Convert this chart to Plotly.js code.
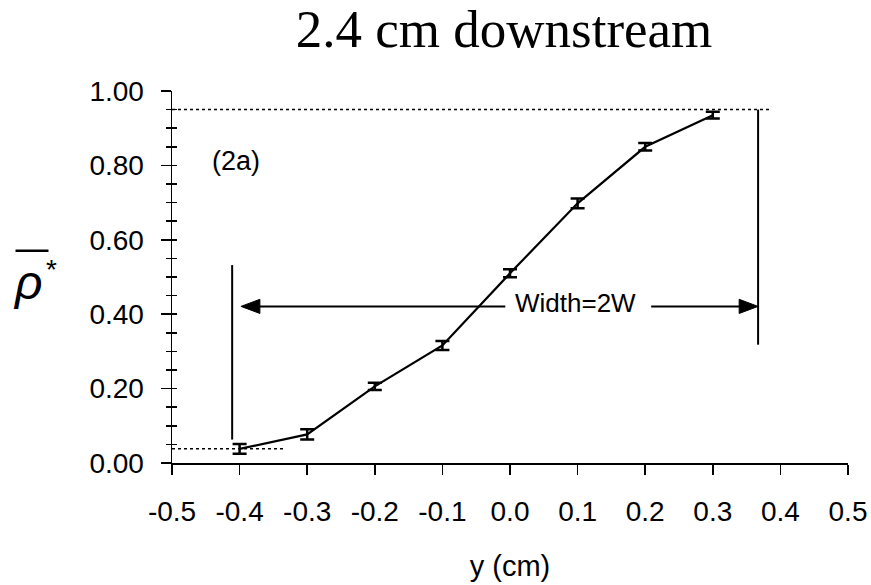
<!DOCTYPE html>
<html>
<head>
<meta charset="utf-8">
<script src="https://cdn.plot.ly/plotly-3.0.1.min.js"></script>
<style>html,body{margin:0;padding:0;background:#fff;}#chart{width:871px;height:585px;}</style>
</head>
<body>
<div id="chart"></div>
<script>
// ---- data ----
var positions = [-0.4, -0.3, -0.2, -0.1, 0.0, 0.1, 0.2, 0.3];
var rhoValues = [0.038, 0.077, 0.206, 0.316, 0.510, 0.698, 0.850, 0.935];
var rhoErrors = [0.013, 0.014, 0.010, 0.012, 0.011, 0.013, 0.010, 0.009];
var xTickVals = [-0.5, -0.4, -0.3, -0.2, -0.1, 0.0, 0.1, 0.2, 0.3, 0.4, 0.5];
var xTickText = ["-0.5", "-0.4", "-0.3", "-0.2", "-0.1", "0.0", "0.1", "0.2", "0.3", "0.4", "0.5"];
var yTickVals = [0, 0.2, 0.4, 0.6, 0.8, 1.0];
var yTickText = ["0.00", "0.20", "0.40", "0.60", "0.80", "1.00"];
// annotation guide values (data units)
var upperLevel = 0.95, lowerLevel = 0.038;
var leftEdge = -0.411, rightEdge = 0.367;
var arrowLevel = 0.421;
var arrowLeftTip = -0.398, arrowLeftTail = -0.007, arrowRightTail = 0.2088;

var SANS = "Arial, 'Liberation Sans', sans-serif";
var SERIF = "'Times New Roman', 'Liberation Serif', serif";

// arrowhead size in data units (about 19 px long, 14 px tall)
var headLen = 0.028, headHalf = 0.019;
function head(tip, dir) {
  var b = tip - dir * headLen;
  return "M" + tip + "," + arrowLevel + " L" + b + "," + (arrowLevel + headHalf) +
         " L" + b + "," + (arrowLevel - headHalf) + " Z";
}

var traces = [
  {
    x: positions, y: rhoValues, type: "scatter", mode: "lines",
    line: {color: "black", width: 2.2},
    error_y: {type: "data", array: rhoErrors, visible: true, color: "black", thickness: 2.5, width: 7},
    hoverinfo: "x+y", showlegend: false
  },
  {
    x: positions, y: rhoValues, type: "scatter", mode: "lines", yaxis: "y2",
    line: {color: "rgba(0,0,0,0)", width: 0}, hoverinfo: "skip", showlegend: false
  }
];

var layout = {
  width: 871, height: 585,
  margin: {l: 172, r: 23, t: 91, b: 122},
  paper_bgcolor: "white", plot_bgcolor: "white",
  font: {family: SANS, color: "black", size: 27},
  showlegend: false,
  title: {
    text: "2.4 cm downstream",
    font: {family: SERIF, size: 53, color: "black"},
    x: 0.5787, xanchor: "center", y: 0.951, yanchor: "middle"
  },
  xaxis: {
    range: [-0.5, 0.5], tickmode: "array", tickvals: xTickVals, ticktext: xTickText,
    ticks: "outside", ticklen: 10, tickwidth: 1.5, tickcolor: "black",
    showline: true, linecolor: "black", linewidth: 1.5,
    showgrid: false, zeroline: false,
    tickfont: {family: SANS, size: 28}, ticklabelstandoff: 13,
    title: {text: "y (cm)", font: {family: SANS, size: 29}, standoff: 29},
    automargin: false, fixedrange: true
  },
  yaxis: {
    range: [0, 1], tickmode: "array", tickvals: yTickVals, ticktext: yTickText,
    ticks: "outside", ticklen: 10, tickwidth: 1.5, tickcolor: "black",
    minor: {tickmode: "linear", tick0: 0, dtick: 0.05, ticks: "outside", ticklen: 5, tickwidth: 1.5, tickcolor: "black", showgrid: false},
    showline: true, linecolor: "black", linewidth: 1.5,
    showgrid: false, zeroline: false,
    tickfont: {family: SANS, size: 28}, ticklabelstandoff: 11,
    automargin: false, fixedrange: true
  },
  yaxis2: {
    overlaying: "y", side: "left", range: [0, 1],
    tickmode: "linear", tick0: 0, dtick: 0.05,
    ticks: "inside", ticklen: 5, tickwidth: 1.5, tickcolor: "black",
    showticklabels: false, showline: false, showgrid: false, zeroline: false,
    fixedrange: true
  },
  shapes: [
    {type: "line", xref: "x", yref: "y", x0: -0.5, x1: 0.387, y0: upperLevel, y1: upperLevel,
     line: {color: "black", width: 1.5, dash: "dot"}},
    {type: "line", xref: "x", yref: "y", x0: -0.5, x1: -0.335, y0: lowerLevel, y1: lowerLevel,
     line: {color: "black", width: 1.5, dash: "dot"}},
    {type: "line", xref: "x", yref: "y", x0: leftEdge, x1: leftEdge, y0: 0.063, y1: 0.532,
     line: {color: "black", width: 2}},
    {type: "line", xref: "x", yref: "y", x0: rightEdge, x1: rightEdge, y0: upperLevel, y1: 0.318,
     line: {color: "black", width: 2}},
    {type: "line", xref: "x", yref: "y", x0: arrowLeftTip + headLen * 0.9, x1: arrowLeftTail, y0: arrowLevel, y1: arrowLevel,
     line: {color: "black", width: 2}},
    {type: "line", xref: "x", yref: "y", x0: arrowRightTail, x1: rightEdge - headLen * 0.9, y0: arrowLevel, y1: arrowLevel,
     line: {color: "black", width: 2}},
    {type: "path", xref: "x", yref: "y", path: head(arrowLeftTip, -1),
     fillcolor: "black", line: {color: "black", width: 1}},
    {type: "path", xref: "x", yref: "y", path: head(rightEdge, 1),
     fillcolor: "black", line: {color: "black", width: 1}},
    {type: "line", xref: "paper", yref: "paper", x0: -0.2315, x1: -0.1827, y0: 0.5706, y1: 0.5706,
     line: {color: "black", width: 2.5}}
  ],
  annotations: [
    {x: 0.0972, y: 0.431, xref: "x", yref: "y", text: "Width=2W", showarrow: false,
     font: {family: SANS, size: 26, color: "black"}, xanchor: "center", yanchor: "middle"},
    {x: -0.406, y: 0.811, xref: "x", yref: "y", text: "(2a)", showarrow: false,
     font: {family: SANS, size: 27, color: "black"}, xanchor: "center", yanchor: "middle"},
    {x: -0.1894, y: 0.486, xref: "paper", yref: "paper", text: "<i>ρ</i>", showarrow: false,
     font: {family: SANS, size: 48, color: "black"}, xanchor: "right", yanchor: "middle", borderpad: 0},
    {x: -0.1879, y: 0.519, xref: "paper", yref: "paper", text: "*", showarrow: false,
     font: {family: SANS, size: 28, color: "black"}, xanchor: "left", yanchor: "middle", borderpad: 0}
  ]
};

Plotly.newPlot("chart", traces, layout, {displayModeBar: false, staticPlot: true});
</script>
</body>
</html>
